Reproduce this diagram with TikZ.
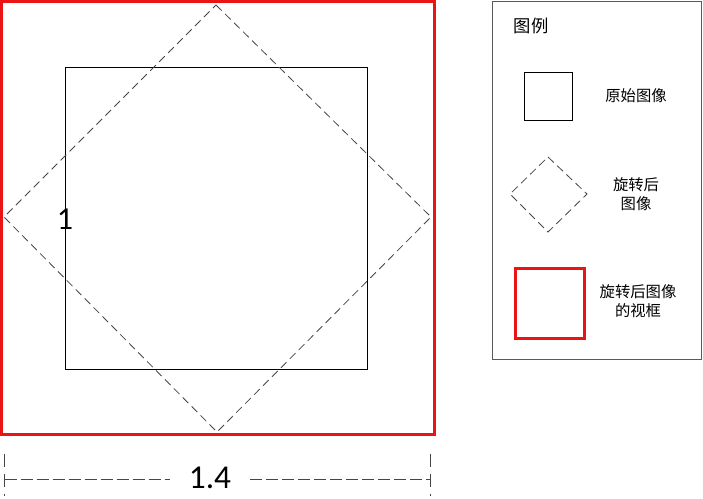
\documentclass[tikz,border=0pt]{standalone}
\usepackage{fontspec}
\setmainfont{Carlito}
\newfontfamily\cjk{Noto Sans CJK SC}
\usepackage{tikz}

\definecolor{viewred}{RGB}{235,20,20}
\definecolor{rotgray}{RGB}{70,70,70}
\definecolor{boxgray}{RGB}{90,90,90}

\begin{document}
\begin{tikzpicture}[x=0.75pt,y=0.75pt,yscale=-1,xscale=1,
    origline/.style={draw=black, line width=0.6},
    rotline/.style={draw=rotgray, line width=0.6, dash pattern=on 6pt off 3.5pt},
    viewline/.style={draw=viewred, line width=1.8},
    dimline/.style={draw=rotgray, line width=0.5, dash pattern=on 9pt off 3pt},
    legtext/.style={inner sep=0.75pt, align=center, font=\cjk\fontsize{11.5}{14}\selectfont}]
    \useasboundingbox (0,0) rectangle (703,499);

    %Shape: Square [id:view frame]
    \draw [viewline] (1.5,1.5) -- (434.5,1.5) -- (434.5,434.5) -- (1.5,434.5) -- cycle ;
    %Shape: Square [id:original image]
    \draw [origline] (65.5,67.5) -- (367.5,67.5) -- (367.5,369.5) -- (65.5,369.5) -- cycle ;
    %Shape: Diamond [id:rotated image]
    \draw [rotline] (216,5) -- (431,217) -- (217,432) -- (4,217) -- cycle ;

    % Text Node
    \draw (65,219) node [inner sep=0.75pt] (one) {\fontsize{24}{28}\selectfont 1};

    %Dimension line
    \coordinate (dimL) at (4.5,479) ;
    \coordinate (dimR) at (430.5,479) ;
    \draw (210,478) node [inner xsep=14pt, inner ysep=0pt] (width) {\fontsize{25}{28}\selectfont 1.4};
    \draw [dimline] (dimL) -- (width.west |- dimL) ;
    \draw [dimline] (width.east |- dimR) -- (dimR) ;
    \draw [dimline, dash pattern=on 10pt off 5pt] ([yshift=-19]dimL) -- ([yshift=13]dimL) ;
    \draw [dimline, dash pattern=on 10pt off 5pt] ([yshift=-19]dimR) -- ([yshift=13]dimR) ;

    %Shape: Rectangle [id:legend box]
    \draw [draw=boxgray, line width=0.7] (492.5,1.5) -- (701.5,1.5) -- (701.5,359.5) -- (492.5,359.5) -- cycle ;
    % Text Node
    \draw (531,26) node [inner sep=0.75pt] (legtitle) {\cjk\fontsize{13}{15}\selectfont 图例};

    %Shape: Square [id:legend original]
    \draw [origline] (524.5,72.5) -- (572.5,72.5) -- (572.5,120.5) -- (524.5,120.5) -- cycle ;
    % Text Node
    \draw (636,96) node [legtext] (legorig) {原始图像};

    %Shape: Diamond [id:legend rotated]
    \draw [rotline] (548,157) -- (587,194) -- (548,232) -- (510,194) -- cycle ;
    % Text Node
    \draw (636,194) node [legtext] (legrot) {旋转后\\图像};

    %Shape: Square [id:legend view]
    \draw [viewline] (515.5,268.5) -- (584.5,268.5) -- (584.5,338.5) -- (515.5,338.5) -- cycle ;
    % Text Node
    \draw (638,301) node [legtext] (legview) {旋转后图像\\的视框};
\end{tikzpicture}
\end{document}
